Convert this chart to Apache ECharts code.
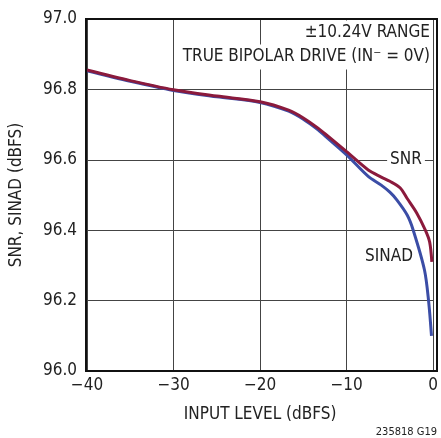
<!DOCTYPE html>
<html>
<head>
<meta charset="utf-8">
<script src="https://cdn.jsdelivr.net/npm/echarts@6/dist/echarts.min.js"></script>
<style>html,body{margin:0;padding:0;background:#fff}#c{width:441px;height:438px}</style>
</head>
<body>
<div id="c"></div>
<script>
const FONT = "'Liberation Sans Narrow','DejaVu Sans Condensed','Liberation Sans',sans-serif";
const xTicks = [-40, -30, -20, -10, 0];
const yTicks = [96.0, 96.2, 96.4, 96.6, 96.8, 97.0];
const snrX   = [-40, -35, -30, -25, -20, -16.7, -15, -13.3, -12.5, -10, -7.5, -6, -5, -3.8, -3, -1.9, -0.9, -0.4, -0.15];
const snrY   = [96.855, 96.825, 96.799, 96.781, 96.765, 96.741, 96.719, 96.690, 96.674, 96.623, 96.571, 96.551, 96.539, 96.520, 96.490, 96.449, 96.400, 96.366, 96.310];
const sinadX = [-40, -35, -30, -25, -20, -16.7, -15, -13.3, -12.5, -10, -7.5, -6, -5, -4.2, -3, -2.3, -1, -0.53, -0.19];
const sinadY = [96.853, 96.823, 96.797, 96.779, 96.763, 96.738, 96.715, 96.685, 96.668, 96.614, 96.553, 96.528, 96.508, 96.486, 96.443, 96.400, 96.287, 96.200, 96.100];
const labels = { range: '±10.24V RANGE', drive: 'TRUE BIPOLAR DRIVE (IN⁻ = 0V)', snr: 'SNR', sinad: 'SINAD', code: '235818 G19' };

const chart = echarts.init(document.getElementById('c'), null, { renderer: 'canvas' });
const txt = (x, y, text, opts) => Object.assign({
  type: 'text', x: x, y: y, z: 100,
  style: Object.assign({ text: text, font: '17px ' + FONT, fill: '#222' }, opts || {})
});
chart.setOption({
  animation: false,
  grid: { left: 86, right: 4, top: 19, bottom: 67, show: false },
  xAxis: {
    type: 'value', min: -40, max: 0, interval: 10,
    axisLine: { show: false },
    axisTick: { show: false },
    splitLine: { show: true, lineStyle: { color: '#444', width: 1 } },
    axisLabel: { color: '#222', fontSize: 17, fontFamily: FONT, margin: 6,
      formatter: v => xTicks.includes(v) ? (v < 0 ? '\u2212' + Math.abs(v) : String(v)) : '' },
    name: 'INPUT LEVEL (dBFS)', nameLocation: 'middle', nameGap: 35,
    nameTextStyle: { color: '#222', fontSize: 17, fontFamily: FONT }
  },
  yAxis: {
    type: 'value', min: 96.0, max: 97.0, interval: 0.2,
    axisLine: { show: false },
    axisTick: { show: false },
    splitLine: { show: true, lineStyle: { color: '#444', width: 1 } },
    axisLabel: { color: '#222', fontSize: 17, fontFamily: FONT, margin: 10,
      formatter: v => yTicks.some(t => Math.abs(t - v) < 1e-6) ? v.toFixed(1) : '' },
    name: 'SNR, SINAD (dBFS)', nameLocation: 'middle', nameGap: 62, nameRotate: 90,
    nameTextStyle: { color: '#222', fontSize: 17, fontFamily: FONT }
  },
  series: [
    { name: 'SINAD', type: 'line', showSymbol: false, smooth: 0.3,
      data: sinadX.map((x, i) => [x, sinadY[i]]),
      lineStyle: { color: '#3b4da6', width: 3 }, z: 3 },
    { name: 'SNR', type: 'line', showSymbol: false, smooth: 0.3,
      data: snrX.map((x, i) => [x, snrY[i]]),
      lineStyle: { color: '#8b1a3c', width: 3 }, z: 4 }
  ],
  graphic: [
    txt(430, 33, labels.range, { align: 'right', verticalAlign: 'middle', backgroundColor: '#fff', padding: [4, 0, 4, 4] }),
    txt(430, 57, labels.drive, { align: 'right', verticalAlign: 'middle', backgroundColor: '#fff', padding: [4, 0, 4, 4] }),
    txt(406, 160, labels.snr, { align: 'center', verticalAlign: 'middle', backgroundColor: '#fff', padding: [1, 3, 1, 3] }),
    txt(389, 257, labels.sinad, { align: 'center', verticalAlign: 'middle' }),
    txt(437, 432, labels.code, { align: 'right', verticalAlign: 'middle', font: '11px ' + FONT }),
    { type: 'rect', shape: { x: 86, y: 19, width: 351, height: 352 }, z: 120,
      style: { fill: 'none', stroke: '#111', lineWidth: 2 } }
  ]
});
</script>
</body>
</html>
